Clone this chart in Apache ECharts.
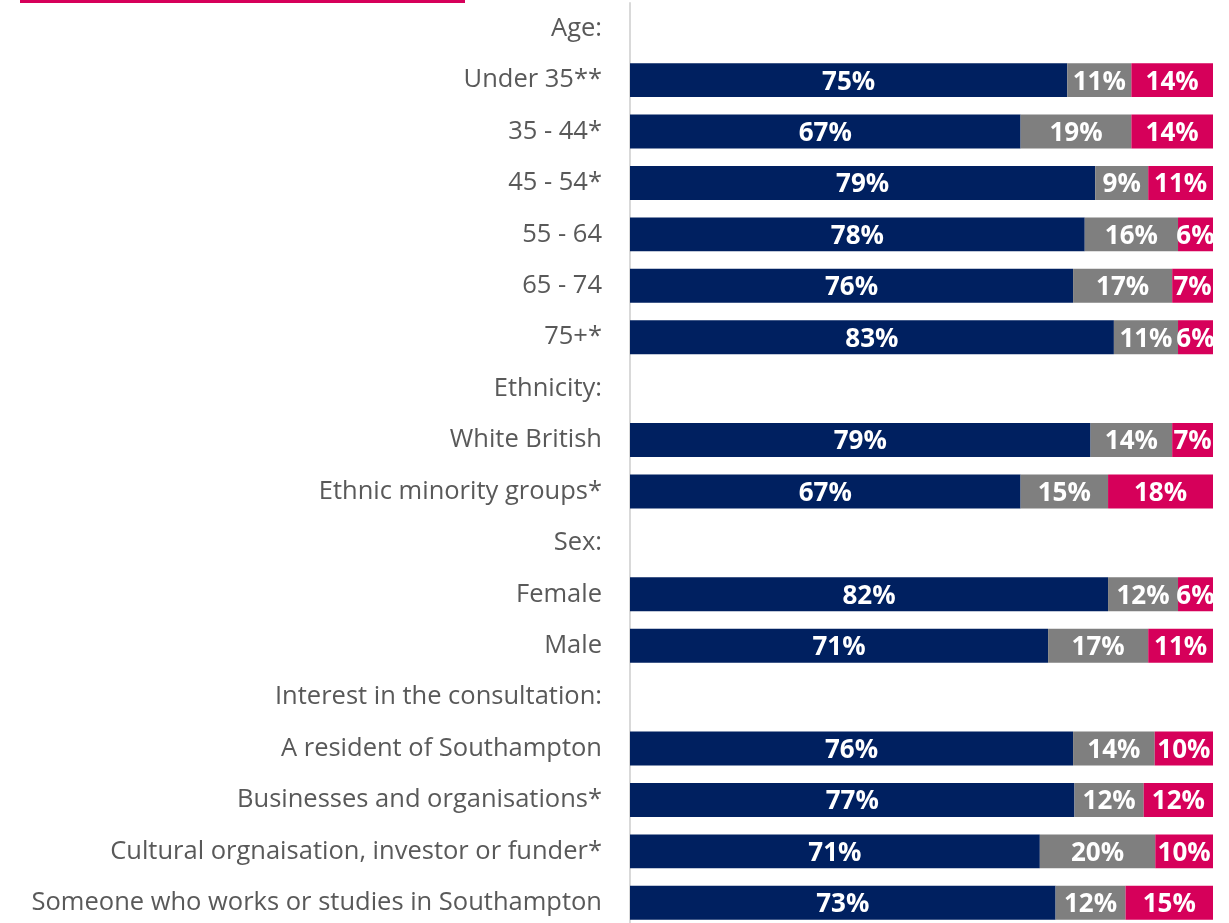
<!DOCTYPE html>
<html>
<head>
<meta charset="utf-8">
<script src="https://cdn.jsdelivr.net/npm/echarts@6/dist/echarts.min.js"></script>
<style>
  html, body { margin: 0; padding: 0; background: #ffffff; }
  #chart { width: 1229px; height: 923px; }
</style>
</head>
<body>
<div id="chart"></div>
<script>
// Row labels, top to bottom; group headings carry no bar.
const categories = [
  'Age:', 'Under 35**', '35 - 44*', '45 - 54*', '55 - 64', '65 - 74', '75+*',
  'Ethnicity:', 'White British', 'Ethnic minority groups*',
  'Sex:', 'Female', 'Male',
  'Interest in the consultation:', 'A resident of Southampton',
  'Businesses and organisations*', 'Cultural orgnaisation, investor or funder*',
  'Someone who works or studies in Southampton'
];

// Percentages per row (null for headings).
const agree    = [null, 75, 67, 79, 78, 76, 83, null, 79, 67, null, 82, 71, null, 76, 77, 71, 73];
const neutral  = [null, 11, 19,  9, 16, 17, 11, null, 14, 15, null, 12, 17, null, 14, 12, 20, 12];
const disagree = [null, 14, 14, 11,  6,  7,  6, null,  7, 18, null,  6, 11, null, 10, 12, 10, 15];

const seriesNames  = ['Agree', 'Neither', 'Disagree'];
const seriesColors = ['#002060', '#7f7f7f', '#d6005a'];
const seriesValues = [agree, neutral, disagree];

// Each row is shown as a 100% stacked bar; labels keep the stated percentages.
const rowTotals = categories.map((_, i) =>
  seriesValues.reduce((s, arr) => s + (arr[i] == null ? 0 : arr[i]), 0));

const series = seriesValues.map((arr, k) => ({
  name: seriesNames[k],
  type: 'bar',
  stack: 'total',
  barWidth: '66%',
  itemStyle: { color: seriesColors[k] },
  label: {
    show: true,
    position: 'inside',
    offset: [0, 2],
    color: '#ffffff',
    fontFamily: 'Open Sans',
    fontWeight: 'bold',
    fontSize: 26,
    formatter: p => (p.data && p.data.raw != null) ? p.data.raw + '%' : ''
  },
  emphasis: { disabled: true },
  data: arr.map((v, i) => v == null ? null : { value: v / rowTotals[i] * 100, raw: v })
}));

const chart = echarts.init(document.getElementById('chart'), null, { renderer: 'canvas' });
chart.setOption({
  animation: false,
  backgroundColor: '#ffffff',
  graphic: [{
    type: 'rect',
    shape: { x: 20, y: 0, width: 445, height: 3 },
    style: { fill: '#d6005a' }
  }],
  grid: {
    left: 630, right: 16, top: 3, height: 925.5,
    containLabel: false,
    outerBoundsMode: 'none'
  },
  xAxis: {
    type: 'value',
    min: 0,
    max: 100,
    show: false
  },
  yAxis: {
    type: 'category',
    inverse: true,
    data: categories,
    axisLine: { show: true, lineStyle: { color: '#d9d9d9', width: 2 } },
    axisTick: { show: false },
    axisLabel: {
      color: '#595959',
      fontFamily: 'Open Sans',
      fontSize: 25.5,
      margin: 28,
      padding: [4, 0, 0, 0],
      interval: 0
    }
  },
  series: series
});
</script>
</body>
</html>
